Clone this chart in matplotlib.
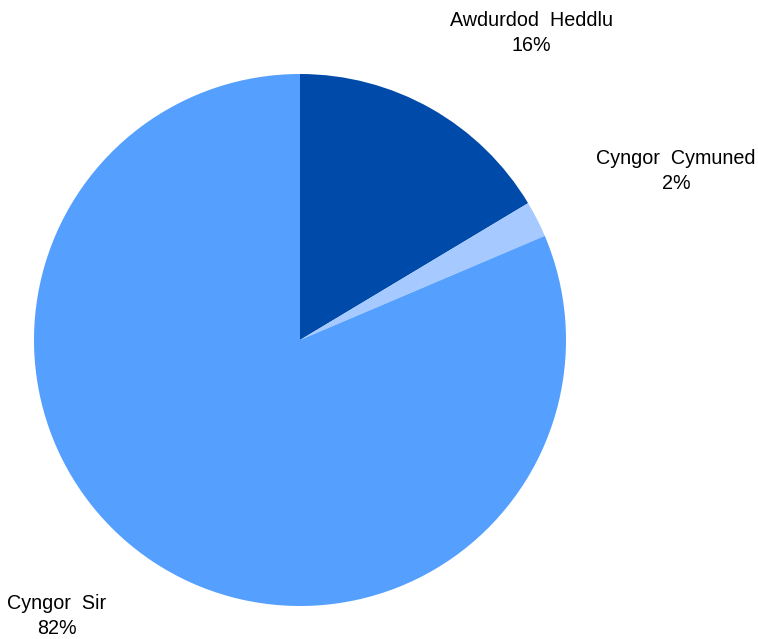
import matplotlib
matplotlib.use("Agg")
import matplotlib.pyplot as plt

categories = ["Awdurdod  Heddlu", "Cyngor  Cymuned", "Cyngor  Sir"]
values = [16.4, 2.2, 81.4]
pct_labels = ["16%", "2%", "82%"]
colors = ["#004BAA", "#A6CAFF", "#559FFF"]

W, H = 758, 639
fig = plt.figure(figsize=(W / 100, H / 100), dpi=100)
cx, cy, r = 300, 340, 266
ax = fig.add_axes([(cx - r) / W, (H - cy - r) / H, 2 * r / W, 2 * r / H])
ax.pie(values, colors=colors, startangle=90, counterclock=False,
       wedgeprops=dict(linewidth=0))
ax.set_xlim(-1, 1)
ax.set_ylim(-1, 1)
ax.axis("off")

label_pos = [(531, 33), (676, 171), (57, 616)]
for cat, pct, (x, y) in zip(categories, pct_labels, label_pos):
    fig.text(x / W, 1 - y / H, f"{cat}\n{pct}", ha="center", va="center",
             fontsize=14.2, family="Liberation Sans", linespacing=1.45)

fig.savefig("out.png", dpi=100)
